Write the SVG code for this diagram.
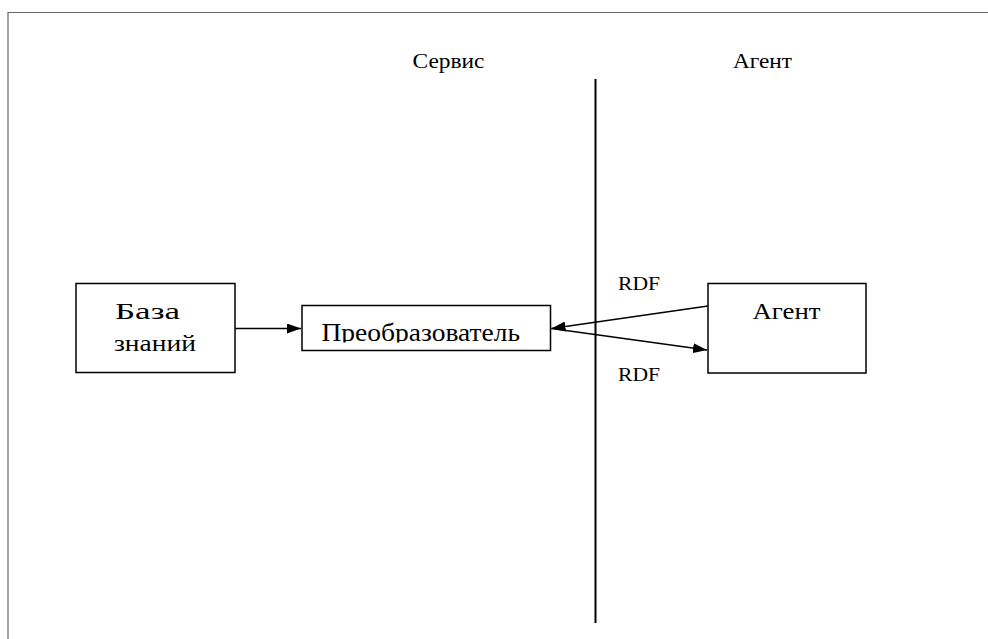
<svg xmlns="http://www.w3.org/2000/svg" width="988" height="639" viewBox="0 0 988 639">
<defs>
<style>
.t{font-family:"Liberation Serif","Times New Roman",serif;fill:#000}
.box{fill:#fff;stroke:#000;stroke-width:1.5}
.ln{stroke:#000;stroke-width:1.5;fill:none}
</style>
<marker id="ah" viewBox="0 0 14 10" refX="14" refY="5" markerWidth="14" markerHeight="10" markerUnits="userSpaceOnUse" orient="auto">
<path d="M0,0 L14,5 L0,10 z" fill="#000"/>
</marker>
<clipPath id="clipP"><rect x="302" y="305" width="249" height="37.5"/></clipPath>
</defs>
<rect width="988" height="639" fill="#fff"/>
<path d="M8,639 V12.5 H988" stroke="#666" stroke-width="1.2" fill="none"/>
<line x1="595.5" y1="79" x2="595.5" y2="623" stroke="#000" stroke-width="2"/>
<text class="t" x="412.5" y="67.5" font-size="22" textLength="72" lengthAdjust="spacingAndGlyphs">Сервис</text>
<text class="t" x="733" y="67.5" font-size="22" textLength="59" lengthAdjust="spacingAndGlyphs">Агент</text>
<g id="kb">
<rect class="box" x="76" y="283.5" width="159" height="89"/>
<text class="t" x="115" y="319" font-size="24" textLength="65" lengthAdjust="spacingAndGlyphs">База</text>
<text class="t" x="114" y="351" font-size="24" textLength="82" lengthAdjust="spacingAndGlyphs">знаний</text>
</g>
<g id="conv">
<rect class="box" x="302" y="305.5" width="248.5" height="45"/>
<text class="t" x="321.5" y="341" font-size="25" textLength="198.5" lengthAdjust="spacingAndGlyphs" clip-path="url(#clipP)">Преобразователь</text>
</g>
<g id="agent">
<rect class="box" x="708" y="283.5" width="158" height="89.5"/>
<text class="t" x="752.5" y="318.5" font-size="24" textLength="68" lengthAdjust="spacingAndGlyphs">Агент</text>
</g>
<g id="connectors">
<line class="ln" x1="235" y1="328.5" x2="301" y2="328.5" marker-end="url(#ah)"/>
<line class="ln" x1="708" y1="306" x2="551.5" y2="328.5" marker-end="url(#ah)"/>
<line class="ln" x1="551.5" y1="328.5" x2="707" y2="350" marker-end="url(#ah)"/>
<text class="t" x="618" y="290" font-size="19" textLength="42" lengthAdjust="spacingAndGlyphs">RDF</text>
<text class="t" x="618" y="381" font-size="19" textLength="42" lengthAdjust="spacingAndGlyphs">RDF</text>
</g>
</svg>
